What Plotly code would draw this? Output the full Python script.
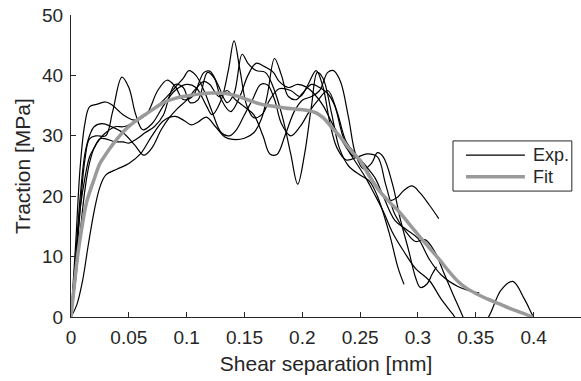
import plotly.graph_objects as go

# ---------------- data ----------------
exp_a_x = [0, 0.004, 0.008, 0.012, 0.016, 0.022, 0.03, 0.035, 0.045, 0.055, 0.065, 0.075, 0.083, 0.09, 0.097,
           0.105, 0.115, 0.12, 0.127, 0.135, 0.141, 0.148, 0.153, 0.16, 0.168, 0.175, 0.183, 0.19, 0.196, 0.202,
           0.208, 0.213, 0.218, 0.225, 0.232, 0.24, 0.25, 0.258, 0.265, 0.275, 0.283, 0.288]
exp_a_y = [0, 12, 25, 32, 34.8, 35.2, 35.6, 35.2, 33.5, 32.6, 33.5, 37.5, 39.2, 38.2, 36,
           36.5, 40.5, 40.7, 38.5, 35.5, 37, 43.5, 42, 40.8, 40.5, 38, 33, 27, 22, 27,
           35, 40.5, 39.5, 34, 28, 25, 23.5, 22.5, 20, 14, 8, 5.4]

exp_b_x = [0, 0.004, 0.008, 0.012, 0.016, 0.022, 0.03, 0.036, 0.044, 0.05, 0.056, 0.062, 0.07, 0.08, 0.09,
           0.1, 0.108, 0.117, 0.122, 0.13, 0.136, 0.141, 0.146, 0.152, 0.158, 0.165, 0.172, 0.18, 0.19, 0.198,
           0.205, 0.212, 0.218, 0.224, 0.23, 0.238, 0.248, 0.256, 0.265, 0.272, 0.28, 0.29, 0.298, 0.306,
           0.314, 0.322, 0.33, 0.339, 0.345]
exp_b_y = [0, 8, 18, 26, 29.5, 30, 30, 34, 39.7, 38, 33.5, 31, 32, 35, 37.5,
           38.5, 38, 35, 33.5, 36, 40.8, 45.7, 41, 35, 33, 33.5, 36, 37.8, 37.5, 36.5,
           38.5, 40.8, 38, 32, 28, 26, 26.5, 27, 26.5, 22, 17, 14, 12.5, 12.8,
           11, 7.5, 3.9, 0, -3]

exp_c_x = [0, 0.005, 0.01, 0.015, 0.02, 0.025, 0.03, 0.04, 0.05, 0.06, 0.07, 0.08, 0.09, 0.098, 0.104,
           0.11, 0.117, 0.125, 0.133, 0.14, 0.15, 0.158, 0.165, 0.17, 0.176, 0.182, 0.188, 0.195, 0.2,
           0.208, 0.215, 0.222, 0.228, 0.235, 0.242, 0.25, 0.26, 0.27, 0.276, 0.282, 0.288, 0.295, 0.302,
           0.31, 0.318]
exp_c_y = [0, 2, 6, 12, 17.5, 21.5, 23.5, 24.5, 25.4, 27, 30, 32.5, 33.2, 32.5, 31.8,
           32.3, 33.1, 31.5, 29.8, 29.4, 29.6, 30.5, 33, 37, 42.8, 40, 36.5, 36, 37,
           38.5, 38, 37, 35, 30, 27, 26, 23, 20, 19.3, 19.8, 21, 21.7, 20.5,
           18.5, 16.3]

exp_d_x = [0, 0.004, 0.008, 0.012, 0.016, 0.02, 0.027, 0.035, 0.045, 0.055, 0.063, 0.07, 0.078, 0.085, 0.092,
           0.1, 0.108, 0.115, 0.12, 0.128, 0.135, 0.142, 0.15, 0.158, 0.166, 0.172, 0.178, 0.185, 0.193, 0.2,
           0.208, 0.215, 0.222, 0.227, 0.233, 0.24, 0.246, 0.253, 0.26, 0.265, 0.27, 0.278, 0.285, 0.292,
           0.298, 0.302, 0.308, 0.312, 0.316]
exp_d_y = [0, 10, 20, 27, 30, 31.5, 32, 31.5, 30.5, 28.5, 26.8, 28, 31, 33, 34.5,
           35.9, 37.8, 39, 38.5, 36.5, 37.5, 36, 34.8, 33.5, 30, 27, 26.9, 30, 34, 35.9,
           36.5, 37.5, 40.5, 40.8, 39, 33, 27, 24.5, 25.5, 27.2, 26.5, 22, 16, 11,
           6.5, 4.9, 5.5, 7, 8.3]

exp_e_x = [0, 0.004, 0.008, 0.012, 0.016, 0.02, 0.025, 0.03, 0.038, 0.045, 0.05, 0.057, 0.064, 0.072, 0.08,
           0.085, 0.09, 0.097, 0.103, 0.11, 0.118, 0.124, 0.13, 0.138, 0.146, 0.153, 0.16, 0.167, 0.175, 0.18,
           0.188, 0.196, 0.204, 0.21, 0.218, 0.226, 0.235, 0.245, 0.255, 0.262, 0.27, 0.278, 0.288, 0.298,
           0.31, 0.32, 0.33, 0.34, 0.352, 0.361, 0.372, 0.382, 0.392, 0.4, 0.404]
exp_e_y = [0, 9, 18, 23, 26.5, 28, 29.5, 29.5, 29, 29, 28.8, 29.5, 30.5, 31.5, 33.5,
           36.5, 38.5, 38, 35.5, 36, 40.5, 39.5, 36, 34, 36.5, 40, 42, 41.5, 40.5, 39,
           38, 38.5, 38, 37, 35, 32, 29, 26, 23, 20.5, 17.5, 14, 10.8, 8,
           6, 3, 0.5, -2, -2, 0, 4.5, 5.9, 3, 0, -1]

exp_f_x = [0, 0.004, 0.008, 0.012, 0.016, 0.02, 0.025, 0.03, 0.038, 0.045, 0.05, 0.057, 0.065, 0.075, 0.083,
           0.09, 0.097, 0.102, 0.108, 0.115, 0.122, 0.13, 0.137, 0.143, 0.15, 0.157, 0.164, 0.17, 0.176, 0.182,
           0.19, 0.198, 0.206, 0.214, 0.222, 0.23, 0.238, 0.246, 0.255, 0.263, 0.27, 0.28, 0.29, 0.3,
           0.31, 0.32, 0.335, 0.345, 0.353]
exp_f_y = [0, 6, 14, 21, 25.5, 28, 29.5, 30.5, 31.5, 31.5, 31.8, 32.5, 33.5, 35, 36.5,
           38, 39.5, 40.8, 40, 37.5, 34, 30.5, 30, 31, 33.5, 36, 38.5, 38.4, 36, 32,
           30, 31.5, 34, 36, 37.5, 34, 29, 27, 25, 23, 20, 16, 14.5, 13,
           9.5, 7, 5, 4.3, 4]

fit_x = [0, 0.003, 0.006, 0.01, 0.0135, 0.02, 0.025, 0.031, 0.037, 0.048, 0.057, 0.068, 0.08, 0.09, 0.1,
         0.11, 0.122, 0.134, 0.145, 0.155, 0.165, 0.175, 0.185, 0.195, 0.205, 0.212, 0.218, 0.225, 0.233,
         0.241, 0.25, 0.258, 0.267, 0.275, 0.283, 0.292, 0.302, 0.31, 0.319, 0.327, 0.334, 0.341, 0.35,
         0.36, 0.37, 0.38, 0.39, 0.399]
fit_y = [0, 5.5, 10.5, 15.5, 19, 22.8, 25.4, 27.2, 28.8, 31.2, 32.6, 34, 35.5, 36.2, 36.6,
         36.9, 37.1, 37.0, 36.5, 35.8, 35.2, 34.9, 34.6, 34.4, 34.2, 33.8, 33, 31.5, 29.8,
         27.8, 25.9, 23.3, 20.8, 19.1, 17.6, 15.5, 13.2, 11.4, 9.4, 7.5, 6.0, 4.9, 3.9,
         3.0, 2.2, 1.4, 0.7, 0]

x_ticks = [0, 0.05, 0.1, 0.15, 0.2, 0.25, 0.3, 0.35, 0.4]
x_tick_labels = ["0", "0.05", "0.1", "0.15", "0.2", "0.25", "0.3", "0.35", "0.4"]
y_ticks = [0, 10, 20, 30, 40, 50]
y_tick_labels = ["0", "10", "20", "30", "40", "50"]
legend_labels = ["Exp.", "Fit"]

# ---------------- figure ----------------
FONT = "Liberation Sans, Arial, Helvetica, sans-serif"
AX = "#262626"
EXP_COLOR = "black"
FIT_COLOR = "#9a9a9a"

fig = go.Figure()
for xs, ys in [(exp_a_x, exp_a_y), (exp_b_x, exp_b_y), (exp_c_x, exp_c_y),
               (exp_d_x, exp_d_y), (exp_e_x, exp_e_y), (exp_f_x, exp_f_y)]:
    fig.add_trace(go.Scatter(x=xs, y=ys, mode="lines", showlegend=False,
                             line=dict(color=EXP_COLOR, width=1.2, shape="spline", smoothing=1.0),
                             hoverinfo="skip"))
fig.add_trace(go.Scatter(x=fit_x, y=fit_y, mode="lines", showlegend=False,
                         line=dict(color=FIT_COLOR, width=3.5, shape="spline", smoothing=1.0),
                         hoverinfo="skip"))

fig.update_layout(
    width=581, height=381,
    margin=dict(l=71, r=0, t=15, b=64, autoexpand=False),
    paper_bgcolor="white", plot_bgcolor="white",
    font=dict(family=FONT, color=AX, size=19),
    showlegend=False,
    xaxis=dict(range=[0, 0.441], tickvals=x_ticks, ticktext=x_tick_labels, automargin=False,
               ticks="inside", ticklen=5, tickcolor=AX, tickwidth=1,
               showline=True, linecolor=AX, linewidth=1, showgrid=False, zeroline=False,
               tickfont=dict(size=19, color=AX), ticklabelstandoff=3,
               title=dict(text="Shear separation [mm]", font=dict(size=21, color=AX), standoff=9)),
    yaxis=dict(range=[0, 50], tickvals=y_ticks, ticktext=y_tick_labels, automargin=False,
               ticks="inside", ticklen=5, tickcolor=AX, tickwidth=1,
               showline=True, linecolor=AX, linewidth=1, showgrid=False, zeroline=False,
               tickfont=dict(size=19, color=AX), ticklabelstandoff=3,
               title=dict(text="Traction [MPa]", font=dict(size=21, color=AX), standoff=5)),
)

# MATLAB-style legend box
fig.add_shape(type="rect", xref="paper", yref="paper", x0=0.749, x1=0.982, y0=0.417, y1=0.583,
              line=dict(color=AX, width=1), fillcolor="white", layer="above")
fig.add_shape(type="line", xref="paper", yref="paper", x0=0.7745, x1=0.89, y0=0.536, y1=0.536,
              line=dict(color=EXP_COLOR, width=1.2), layer="above")
fig.add_shape(type="line", xref="paper", yref="paper", x0=0.7745, x1=0.89, y0=0.464, y1=0.464,
              line=dict(color=FIT_COLOR, width=3.5), layer="above")
for lab, yy in zip(legend_labels, [0.536, 0.464]):
    fig.add_annotation(text=lab, xref="paper", yref="paper", x=0.902, y=yy, xanchor="left",
                       yanchor="middle", showarrow=False, font=dict(size=18, color=AX, family=FONT))

fig.write_html("out.html", config={"displayModeBar": False},
               post_script="document.body.style.margin='0';")
